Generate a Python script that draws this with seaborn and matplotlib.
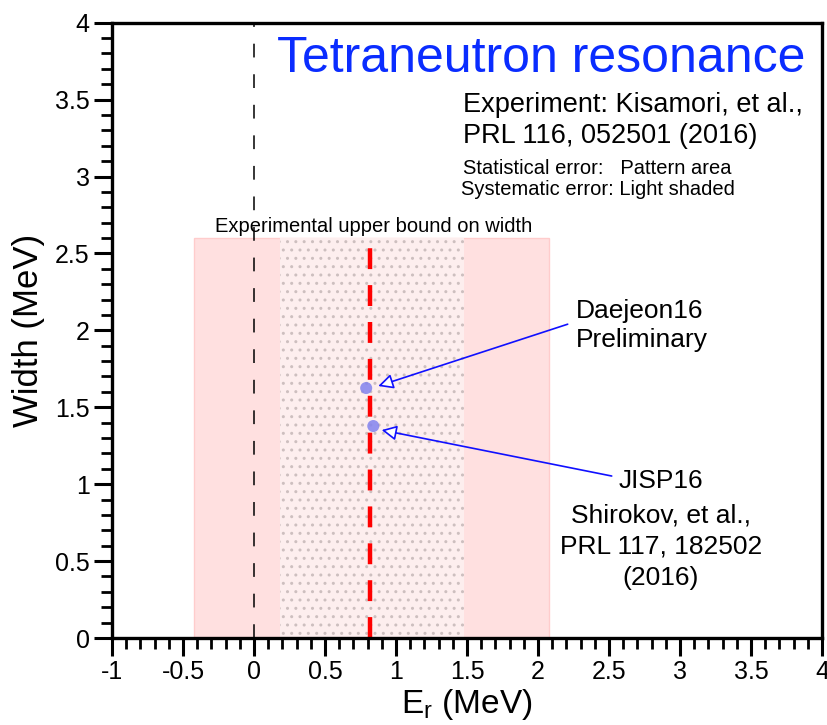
import matplotlib
matplotlib.use("Agg")
import matplotlib.pyplot as plt
import seaborn as sns
import pandas as pd
from matplotlib.patches import Rectangle
from matplotlib.ticker import MultipleLocator

# ---- data ----
exp_center = 0.82          # experimental resonance energy (MeV)
stat_range = [0.18, 1.48]  # statistical error band (MeV)
syst_range = [-0.42, 2.08] # systematic error band (MeV)
width_bound = 2.6          # experimental upper bound on width (MeV)

calc_names = ["Daejeon16", "JISP16"]
calc_energy = [0.79, 0.84]
calc_width = [1.625, 1.378]

x_ticks = [-1, -0.5, 0, 0.5, 1, 1.5, 2, 2.5, 3, 3.5, 4]
y_ticks = [0, 0.5, 1, 1.5, 2, 2.5, 3, 3.5, 4]

sns.set_style("ticks")
plt.rcParams["font.family"] = ["Liberation Sans", "DejaVu Sans"]
plt.rcParams["mathtext.fontset"] = "custom"
plt.rcParams["mathtext.rm"] = "Liberation Sans"
plt.rcParams["mathtext.it"] = "Liberation Sans"
plt.rcParams["hatch.linewidth"] = 1.0
for k in ["text.color", "axes.labelcolor", "xtick.color", "ytick.color", "axes.edgecolor"]:
    plt.rcParams[k] = "black"

fig = plt.figure(figsize=(8.27, 7.25), dpi=100)
ax = fig.add_axes([112 / 827, 1 - 638 / 725, 710 / 827, (638 - 22.7) / 725])

# systematic band
ax.add_patch(Rectangle((syst_range[0], 0), syst_range[1] - syst_range[0], width_bound,
                       facecolor="#ffe0e0", edgecolor="#ffcccc", lw=1, zorder=1))
# statistical band (pattern)
ax.add_patch(Rectangle((stat_range[0], 0), stat_range[1] - stat_range[0], width_bound,
                       facecolor="#fdeeee", edgecolor="#cdbfbf", hatch="..", lw=0, zorder=2))

# zero line
ax.axvline(0, color="black", lw=1.1, linestyle=(0, (9, 11)), zorder=3)
# experimental centroid
ax.plot([exp_center, exp_center], [0, width_bound], color="red", lw=3.2,
        linestyle=(0, (4.7, 3.6)), zorder=4, dash_capstyle="butt")

df = pd.DataFrame({"name": calc_names, "E": calc_energy, "W": calc_width})
sns.scatterplot(data=df, x="E", y="W", ax=ax, color="#8282ee", s=75, edgecolor="none",
                alpha=0.85, zorder=5, legend=False)

ax.set_xlim(-1, 4)
ax.set_ylim(0, 4)
ax.set_xticks(x_ticks)
ax.set_xticklabels([f"{t:g}" for t in x_ticks])
ax.set_yticks(y_ticks)
ax.set_yticklabels([f"{t:g}" for t in y_ticks])
ax.xaxis.set_minor_locator(MultipleLocator(0.1))
ax.yaxis.set_minor_locator(MultipleLocator(0.1))
ax.tick_params(which="major", direction="out", length=13, width=2.2, labelsize=18, pad=3,
               top=False, right=False)
ax.tick_params(which="minor", direction="out", length=8, width=2.0, top=False, right=False)
for sp in ax.spines.values():
    sp.set_linewidth(2.4)
    sp.set_visible(True)
    sp.set_zorder(6)

ax.set_xlabel(r"E$_\mathrm{r}$ (MeV)", fontsize=24, labelpad=2)
ax.set_ylabel("Width (MeV)", fontsize=25, labelpad=7)

# texts
ax.text(0.162, 3.68, "Tetraneutron resonance", color="#0a2cff", fontsize=36, va="baseline")
ax.text(1.47, 3.42, "Experiment: Kisamori, et al.,", fontsize=19.5, va="baseline")
ax.text(1.47, 3.215, "PRL 116, 052501 (2016)", fontsize=19.5, va="baseline")
ax.text(1.47, 3.015, "Statistical error:   Pattern area", fontsize=14.5, va="baseline")
ax.text(1.46, 2.88, "Systematic error: Light shaded", fontsize=14.5, va="baseline")
ax.text(0.845, 2.64, "Experimental upper bound on width", fontsize=14.5, va="baseline", ha="center",
        zorder=7)

ax.text(2.27, 2.083, "Daejeon16", fontsize=19, va="baseline")
ax.text(2.27, 1.894, "Preliminary", fontsize=19, va="baseline")
for s, yy in zip(["JISP16", "Shirokov, et al.,", "PRL 117, 182502", "(2016)"],
                 [0.975, 0.75, 0.55, 0.345]):
    ax.text(2.866, yy, s, fontsize=19, va="baseline", ha="center")

arrow = dict(arrowstyle="-|>,head_length=0.5,head_width=0.25", ec="#1010ff", fc="white",
             lw=1.2, shrinkA=0, shrinkB=0, mutation_scale=18)
ax.annotate("", xy=(0.875, 1.638), xytext=(2.209, 2.04), arrowprops=arrow, zorder=6)
ax.annotate("", xy=(0.899, 1.352), xytext=(2.519, 1.053), arrowprops=arrow, zorder=6)

fig.savefig("out.png", dpi=100)
